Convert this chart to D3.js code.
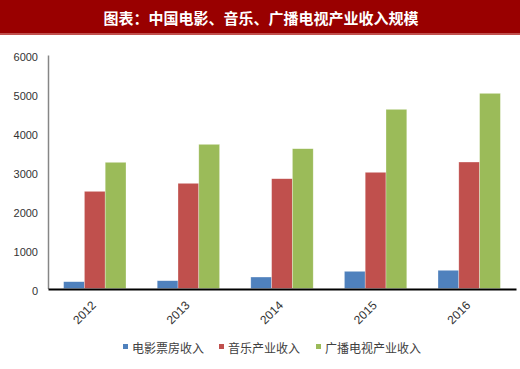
<!DOCTYPE html>
<html><head><meta charset="utf-8">
<script src="https://cdn.jsdelivr.net/npm/d3@7"></script>
<style>body{margin:0;background:#fff;}svg{display:block;}</style>
</head><body>
<script>
const title = "图表：中国电影、音乐、广播电视产业收入规模";
const years = ["2012","2013","2014","2015","2016"];
const seriesNames = ["电影票房收入","音乐产业收入","广播电视产业收入"];
const boxOffice = [175, 200, 295, 442, 468];
const music = [2497, 2703, 2821, 2986, 3250];
const broadcast = [3243, 3705, 3592, 4604, 5015];
const yTicks = [0,1000,2000,3000,4000,5000,6000];
const colors = ["#4f81bd","#c0504d","#9bbb59"];

(function(){
const values = [boxOffice, music, broadcast];
const W = 520, H = 369;
const svg = d3.select("body").append("svg").attr("width", W).attr("height", H);
const font = "'Liberation Sans', Arial, 'Noto Sans CJK SC', sans-serif";

// title bar
svg.append("rect").attr("x",0).attr("y",0).attr("width",W).attr("height",33).attr("fill","#990000");
svg.append("rect").attr("x",0).attr("y",33).attr("width",W).attr("height",2).attr("fill","#c0504d");
svg.append("text").attr("x",261).attr("y",17).attr("text-anchor","middle").attr("dominant-baseline","central")
  .attr("fill","#fff").attr("font-size",15).attr("font-weight","bold")
  .attr("font-family","'Noto Sans CJK SC', sans-serif").text(title);

const pl = 48, pr = 516, pt = 55, pb = 288.5;
const x0 = d3.scaleBand().domain(years).range([pl, pr]).padding(0);
const x1 = d3.scaleBand().domain(d3.range(3)).range([0, x0.bandwidth()]).paddingInner(0).paddingOuter(0.75);
const y = d3.scaleLinear().domain([0, 6000]).range([pb, pt]);

// y axis
const yAxis = svg.append("g").attr("transform", `translate(${pl},0)`)
  .call(d3.axisLeft(y).tickValues(yTicks).tickSize(0).tickPadding(10).tickFormat(d3.format("d")));
yAxis.select(".domain").attr("stroke","#868686").attr("stroke-width",1.5);
yAxis.selectAll("text").attr("font-size",11).attr("fill","#333").attr("font-family",font).attr("dy","0.5em");

// bars
years.forEach((yr, i) => {
  const g = svg.append("g").attr("transform", `translate(${x0(yr)},0)`);
  values.forEach((arr, s) => {
    g.append("rect").attr("x", x1(s)).attr("y", y(arr[i])).attr("width", x1.bandwidth())
      .attr("height", y(0) - y(arr[i])).attr("fill", colors[s])
      .attr("stroke","rgba(255,255,255,0.5)").attr("stroke-width",0.6);
  });
});

// x axis
const xAxis = svg.append("g").attr("transform", `translate(0,${pb + 0.5})`)
  .call(d3.axisBottom(x0).tickSize(0).tickPadding(0));
xAxis.select(".domain").attr("stroke","#000").attr("stroke-width",2);
xAxis.selectAll(".tick text").attr("font-size",12).attr("fill","#333").attr("font-family",font)
  .attr("text-anchor","end").attr("dy",0)
  .attr("transform","translate(2,17) rotate(-45)");

// legend
const legendItems = [{x:123, tx:132}, {x:219, tx:228}, {x:316, tx:325}];
seriesNames.forEach((name, s) => {
  svg.append("rect").attr("x", legendItems[s].x).attr("y", 344).attr("width",5).attr("height",5).attr("fill",colors[s]);
  svg.append("text").attr("x", legendItems[s].tx).attr("y", 347).attr("dominant-baseline","central")
    .attr("font-size",12).attr("fill","#404040").attr("font-family","'Noto Sans CJK SC', sans-serif").text(name);
});
})();
</script>
</body></html>
